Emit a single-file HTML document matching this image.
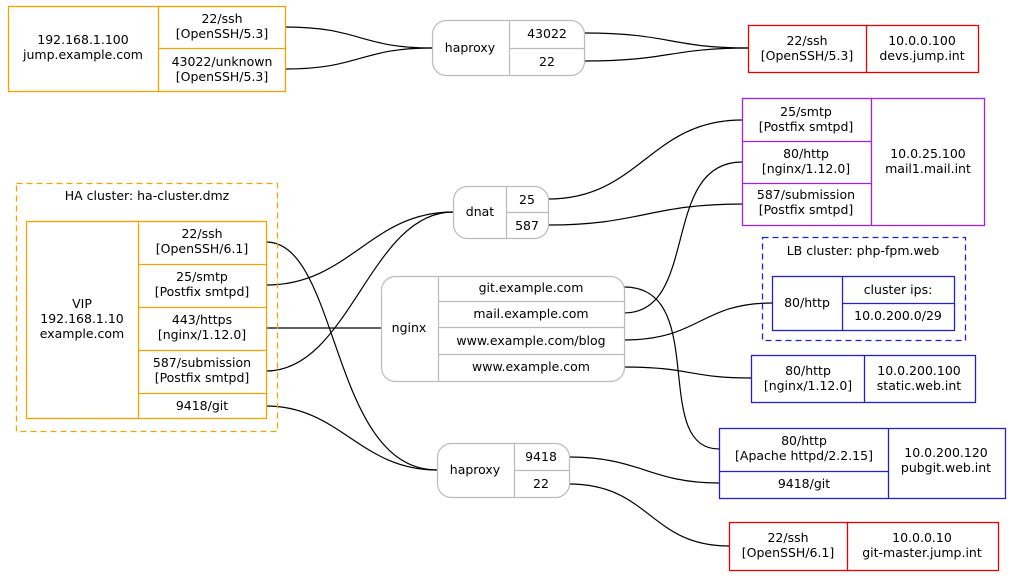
<!DOCTYPE html>
<html><head><meta charset="utf-8"><style>
html,body{margin:0;padding:0;background:#fff}
svg{display:block}
text{font-family:"DejaVu Sans","Liberation Sans",sans-serif;font-size:12.5px;fill:#000;text-anchor:middle}
.o{fill:none;stroke:#f5a300;stroke-width:1.3}
.r{fill:none;stroke:#e00;stroke-width:1.3}
.p{fill:none;stroke:#a020f0;stroke-width:1.3}
.b{fill:none;stroke:#2222cc;stroke-width:1.3}
.g{fill:none;stroke:#bbb;stroke-width:1.2}
.e{fill:none;stroke:#000;stroke-width:1.2}
</style></head><body>
<svg width="1012" height="577" viewBox="0 0 1012 577" xmlns="http://www.w3.org/2000/svg">
<path class="e" d="M285,27 C360,27 360,48 432,48"/>
<path class="e" d="M285,69 C360,69 360,48 432,48"/>
<path class="e" d="M584,33 C670,33 670,48 748,48"/>
<path class="e" d="M584,61 C670,61 670,48 748,48"/>
<path class="e" d="M266,242 C340,242 330,470 437,470"/>
<path class="e" d="M266,285 C350,285 370,212 453,212"/>
<path class="e" d="M266,328 L381,328"/>
<path class="e" d="M266,371 C350,371 370,212 453,212"/>
<path class="e" d="M266,406 C340,406 360,470 437,470"/>
<path class="e" d="M548,199 C640,199 650,120 742,120"/>
<path class="e" d="M548,225 C640,225 650,204 742,204"/>
<path class="e" d="M624,287 C710,287 650,449 719,449"/>
<path class="e" d="M624,313 C700,313 660,162 742,162"/>
<path class="e" d="M624,340 C700,340 700,303 772,303"/>
<path class="e" d="M624,367 C690,367 690,378 751,378"/>
<path class="e" d="M569,457 C640,457 650,483 719,483"/>
<path class="e" d="M569,484 C650,484 650,546 729,546"/>

<rect class="o" x="8.5" y="6.5" width="277" height="85"/>
<path class="o" d="M158.5,6.5V91.5M158.5,48.5H285.5"/>
<text x="83" y="44">192.168.1.100</text><text x="83" y="59">jump.example.com</text>
<text x="222" y="23">22/ssh</text><text x="222" y="38">[OpenSSH/5.3]</text>
<text x="222" y="66">43022/unknown</text><text x="222" y="81">[OpenSSH/5.3]</text>

<rect class="g" x="432.5" y="20.5" width="152" height="55" rx="14"/>
<path class="g" d="M509.5,20.5V75.5M509.5,48.5H584.5"/>
<text x="470" y="52">haproxy</text>
<text x="547" y="38">43022</text><text x="547" y="66">22</text>

<rect class="r" x="748.5" y="25.5" width="230" height="47"/>
<path class="r" d="M866.5,25.5V72.5"/>
<text x="807" y="45">22/ssh</text><text x="807" y="60">[OpenSSH/5.3]</text>
<text x="922" y="45">10.0.0.100</text><text x="922" y="60">devs.jump.int</text>

<rect class="p" x="742.5" y="98.5" width="242" height="127"/>
<path class="p" d="M871.5,98.5V225.5M742.5,141.5H871.5M742.5,183.5H871.5"/>
<text x="806" y="116">25/smtp</text><text x="806" y="131">[Postfix smtpd]</text>
<text x="806" y="158">80/http</text><text x="806" y="173">[nginx/1.12.0]</text>
<text x="806" y="199">587/submission</text><text x="806" y="214">[Postfix smtpd]</text>
<text x="928" y="158">10.0.25.100</text><text x="928" y="173">mail1.mail.int</text>

<rect x="16.5" y="183.5" width="261" height="248" fill="none" stroke="#f5a300" stroke-width="1.3" stroke-dasharray="6,4"/>
<text x="147" y="200">HA cluster: ha-cluster.dmz</text>
<rect class="o" x="26.5" y="221.5" width="240" height="197"/>
<path class="o" d="M138.5,221.5V418.5M138.5,264.5H266.5M138.5,307.5H266.5M138.5,350.5H266.5M138.5,393.5H266.5"/>
<text x="82" y="308">VIP</text><text x="82" y="323">192.168.1.10</text><text x="82" y="338">example.com</text>
<text x="202" y="238">22/ssh</text><text x="202" y="253">[OpenSSH/6.1]</text>
<text x="202" y="281">25/smtp</text><text x="202" y="296">[Postfix smtpd]</text>
<text x="202" y="324">443/https</text><text x="202" y="339">[nginx/1.12.0]</text>
<text x="202" y="367">587/submission</text><text x="202" y="382">[Postfix smtpd]</text>
<text x="202" y="410">9418/git</text>

<rect class="g" x="453.5" y="186.5" width="95" height="52" rx="14"/>
<path class="g" d="M506.5,186.5V238.5M506.5,212.5H548.5"/>
<text x="480" y="216">dnat</text>
<text x="527" y="204">25</text><text x="527" y="230">587</text>

<rect x="762.5" y="237.5" width="203" height="103" fill="none" stroke="#2222cc" stroke-width="1.3" stroke-dasharray="6,4"/>
<text x="863" y="255">LB cluster: php-fpm.web</text>
<rect class="b" x="772.5" y="276.5" width="182" height="54"/>
<path class="b" d="M842.5,276.5V330.5M842.5,303.5H954.5"/>
<text x="807" y="307">80/http</text>
<text x="898" y="294">cluster ips:</text><text x="898" y="320">10.0.200.0/29</text>

<rect class="g" x="381.5" y="276.5" width="243" height="105" rx="14"/>
<path class="g" d="M438.5,276.5V381.5M438.5,301.5H624.5M438.5,327.5H624.5M438.5,354.5H624.5"/>
<text x="409" y="332">nginx</text>
<text x="531" y="292">git.example.com</text>
<text x="531" y="318">mail.example.com</text>
<text x="531" y="345">www.example.com/blog</text>
<text x="531" y="371">www.example.com</text>

<rect class="b" x="751.5" y="355.5" width="224" height="47"/>
<path class="b" d="M864.5,355.5V402.5"/>
<text x="808" y="375">80/http</text><text x="808" y="390">[nginx/1.12.0]</text>
<text x="919" y="375">10.0.200.100</text><text x="919" y="390">static.web.int</text>

<rect class="b" x="719.5" y="428.5" width="286" height="70"/>
<path class="b" d="M888.5,428.5V498.5M719.5,471.5H888.5"/>
<text x="804" y="445">80/http</text><text x="804" y="460">[Apache httpd/2.2.15]</text>
<text x="804" y="488">9418/git</text>
<text x="946" y="457">10.0.200.120</text><text x="946" y="472">pubgit.web.int</text>

<rect class="g" x="437.5" y="443.5" width="132" height="54" rx="14"/>
<path class="g" d="M514.5,443.5V497.5M514.5,470.5H569.5"/>
<text x="475" y="474">haproxy</text>
<text x="541" y="461">9418</text><text x="541" y="488">22</text>

<rect class="r" x="729.5" y="522.5" width="269" height="48"/>
<path class="r" d="M847.5,522.5V570.5"/>
<text x="788" y="542">22/ssh</text><text x="788" y="557">[OpenSSH/6.1]</text>
<text x="922" y="542">10.0.0.10</text><text x="922" y="557">git-master.jump.int</text>
</svg>
</body></html>
